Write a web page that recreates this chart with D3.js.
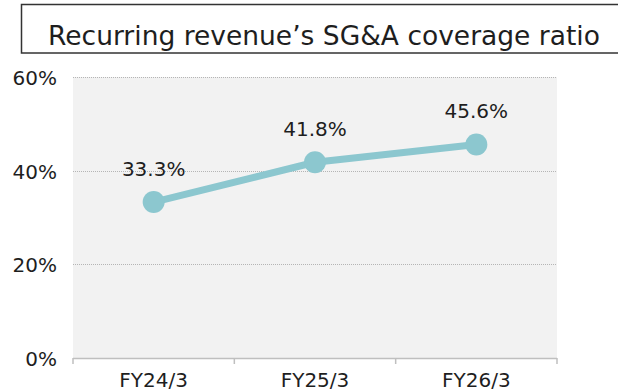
<!DOCTYPE html>
<html>
<head>
<meta charset="utf-8">
<script src="https://cdn.jsdelivr.net/npm/d3@7"></script>
<style>
  html, body { margin: 0; padding: 0; background: #fff; }
  svg { display: block; font-family: "DejaVu Sans", sans-serif; }
</style>
</head>
<body>
<svg id="chart" width="618" height="391"></svg>
<script>
const titleText = "Recurring revenue\u2019s SG&A coverage ratio";
const categories = ["FY24/3", "FY25/3", "FY26/3"];
const ratios = [33.3, 41.8, 45.6];
const yTicks = [0, 20, 40, 60];

const svg = d3.select("#chart");
const margin = { left: 73, right: 61, top: 77, bottom: 33 };
const W = 618, H = 391;
const plotW = W - margin.left - margin.right;
const plotH = H - margin.top - margin.bottom;
const lineColor = "#8cc7cf";
const textColor = "#1e1e1e";

const x = d3.scaleBand().domain(categories).range([margin.left, margin.left + plotW]);
const y = d3.scaleLinear().domain([0, 60]).range([margin.top + plotH, margin.top]);

// Title box (runs off the right edge)
svg.append("rect")
  .attr("x", 21.5).attr("y", 4.5)
  .attr("width", 620).attr("height", 48.5)
  .attr("fill", "#fff").attr("stroke", "#333").attr("stroke-width", 1.5);
svg.append("text")
  .attr("x", 324).attr("y", 45)
  .attr("text-anchor", "middle")
  .attr("font-size", 26.5).attr("fill", textColor)
  .text(titleText);

// Plot background
svg.append("rect")
  .attr("x", margin.left).attr("y", margin.top)
  .attr("width", plotW).attr("height", plotH)
  .attr("fill", "#f2f2f2");

// Dotted gridlines
svg.append("g").selectAll("line")
  .data(yTicks.filter(d => d > 0))
  .join("line")
  .attr("x1", margin.left).attr("x2", margin.left + plotW)
  .attr("y1", d => Math.round(y(d)) + 0.5).attr("y2", d => Math.round(y(d)) + 0.5)
  .attr("stroke", "#b5b5b5").attr("stroke-width", 1)
  .attr("stroke-dasharray", "1,1");

// Y axis labels
const yAxis = svg.append("g")
  .attr("transform", `translate(${margin.left},0)`)
  .call(d3.axisLeft(y).tickValues(yTicks).tickFormat(d => d + "%").tickSize(0).tickPadding(16));
yAxis.select(".domain").remove();
yAxis.selectAll("text")
  .attr("font-size", 20).attr("fill", textColor)
  .attr("font-family", "\"DejaVu Sans\", sans-serif")
  .attr("dy", "0.37em");

// X axis with category boundary ticks
const xAxisG = svg.append("g")
  .attr("transform", `translate(0,${margin.top + plotH})`);
xAxisG.append("line")
  .attr("x1", margin.left).attr("x2", margin.left + plotW)
  .attr("y1", 0.5).attr("y2", 0.5)
  .attr("stroke", "#bfbfbf").attr("stroke-width", 1.5);
const bounds = categories.map(c => x(c)).concat([x(categories[categories.length - 1]) + x.bandwidth()]);
xAxisG.selectAll("line.tk").data(bounds).join("line").attr("class", "tk")
  .attr("x1", d => d).attr("x2", d => d)
  .attr("y1", 0).attr("y2", 6)
  .attr("stroke", "#bfbfbf").attr("stroke-width", 1.5);
xAxisG.selectAll("text").data(categories).join("text")
  .attr("x", d => x(d) + x.bandwidth() / 2)
  .attr("y", 29)
  .attr("text-anchor", "middle")
  .attr("font-size", 20).attr("fill", textColor)
  .text(d => d);

// Line series
const pts = categories.map((c, i) => ({ c, v: ratios[i] }));
const cx = d => x(d.c) + x.bandwidth() / 2;
svg.append("path")
  .datum(pts)
  .attr("d", d3.line().x(cx).y(d => y(d.v)))
  .attr("fill", "none").attr("stroke", lineColor).attr("stroke-width", 7)
  .attr("stroke-linejoin", "round");
svg.append("g").selectAll("circle").data(pts).join("circle")
  .attr("cx", cx).attr("cy", d => y(d.v)).attr("r", 11)
  .attr("fill", lineColor);

// Value labels
svg.append("g").selectAll("text").data(pts).join("text")
  .attr("x", cx).attr("y", d => y(d.v) - 26)
  .attr("text-anchor", "middle")
  .attr("font-size", 20).attr("fill", textColor)
  .text(d => d.v.toFixed(1) + "%");
</script>
</body>
</html>
